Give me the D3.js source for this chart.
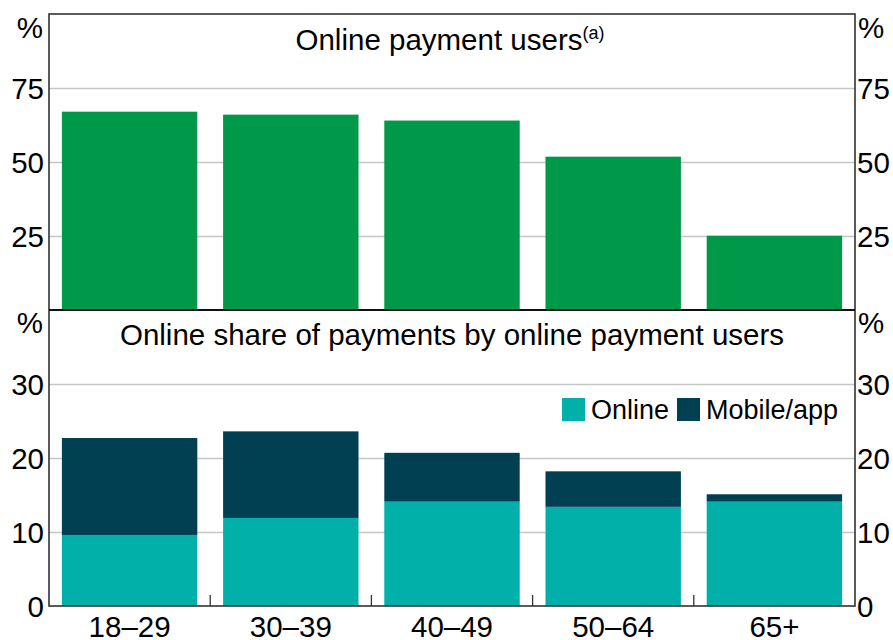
<!DOCTYPE html>
<html lang="en">
<head>
    <meta charset="UTF-8">
    <title>Online payment users</title>
    <script src="https://d3js.org/d3.v7.min.js"></script>
    <style>
        body { margin: 0; background: #fff; }
        svg text { font-family: "Liberation Sans", Arial, sans-serif; fill: #000; }
        .grid line { stroke: #c6c6c6; stroke-width: 1.3px; }
        .grid .domain { display: none; }
        .frame { fill: none; stroke: #333; stroke-width: 1.6px; }
    </style>
</head>
<body>
    <div id="chart"></div>

    <script>
        // Age groups
        const categories = ["18–29", "30–39", "40–49", "50–64", "65+"];
        // Top panel: share of people who are online payment users (%)
        const userShare = [67.0, 66.0, 64.0, 51.8, 25.1];
        // Bottom panel: share of payments made online (%), stacked
        const onlineShare = [9.6, 11.9, 14.1, 13.4, 14.1];
        const mobileShare = [13.1, 11.7, 6.6, 4.8, 1.0];

        const topTicks = [25, 50, 75];
        const bottomTicks = [0, 10, 20, 30];

        const width = 893, height = 640;
        const left = 49, right = 855;
        const topY = 14, midY = 310, botY = 606;
        const fontSize = 29.5;

        const svg = d3.select("#chart").append("svg")
            .attr("width", width)
            .attr("height", height);

        const x = d3.scaleBand()
            .domain(categories)
            .range([left, right])
            .paddingInner(0.16)
            .paddingOuter(0.08);

        const yTop = d3.scaleLinear().domain([0, 100]).range([midY, topY]);
        const yBot = d3.scaleLinear().domain([0, 40]).range([botY, midY]);

        // gridlines
        svg.append("g")
            .attr("class", "grid")
            .attr("transform", `translate(${left},0)`)
            .call(d3.axisLeft(yTop).tickValues(topTicks).tickSize(-(right - left)).tickFormat(""));
        svg.append("g")
            .attr("class", "grid")
            .attr("transform", `translate(${left},0)`)
            .call(d3.axisLeft(yBot).tickValues([10, 20, 30]).tickSize(-(right - left)).tickFormat(""));

        // top bars
        svg.append("g")
            .selectAll("rect")
            .data(categories)
            .join("rect")
            .attr("x", d => x(d))
            .attr("width", x.bandwidth())
            .attr("y", (d, i) => yTop(userShare[i]))
            .attr("height", (d, i) => midY - yTop(userShare[i]))
            .attr("fill", "#009849");

        // bottom stacked bars
        const rows = categories.map((c, i) => ({ cat: c, online: onlineShare[i], mobile: mobileShare[i] }));
        const series = d3.stack().keys(["online", "mobile"])(rows);
        const colour = d3.scaleOrdinal().domain(["online", "mobile"]).range(["#00b0a9", "#004052"]);

        svg.append("g")
            .selectAll("g")
            .data(series)
            .join("g")
            .attr("fill", s => colour(s.key))
            .selectAll("rect")
            .data(s => s)
            .join("rect")
            .attr("x", d => x(d.data.cat))
            .attr("width", x.bandwidth())
            .attr("y", d => yBot(d[1]))
            .attr("height", d => yBot(d[0]) - yBot(d[1]));

        // frame and panel divider
        svg.append("rect")
            .attr("class", "frame")
            .attr("x", left).attr("y", topY)
            .attr("width", right - left).attr("height", botY - topY);
        svg.append("line")
            .attr("x1", left).attr("x2", right)
            .attr("y1", midY).attr("y2", midY)
            .attr("stroke", "#111").attr("stroke-width", 1.8);

        // category boundary ticks on the bottom axis
        const step = x.step();
        svg.append("g")
            .selectAll("line")
            .data(categories.slice(1))
            .join("line")
            .attr("x1", d => x(d) - step * x.paddingInner() / 2)
            .attr("x2", d => x(d) - step * x.paddingInner() / 2)
            .attr("y1", botY - 11)
            .attr("y2", botY)
            .attr("stroke", "#333")
            .attr("stroke-width", 1.3);

        // y tick labels, both sides
        function yLabels(scale, ticks, unitY) {
            const g = svg.append("g").attr("font-size", fontSize);
            ticks.forEach(t => {
                g.append("text").attr("x", left - 5).attr("y", scale(t)).attr("dy", "0.36em")
                    .attr("text-anchor", "end").text(t);
                g.append("text").attr("x", right + 2).attr("y", scale(t)).attr("dy", "0.36em")
                    .attr("text-anchor", "start").text(t);
            });
            g.append("text").attr("x", left - 6).attr("y", unitY).attr("text-anchor", "end").text("%");
            g.append("text").attr("x", right + 3).attr("y", unitY).attr("text-anchor", "start").text("%");
        }
        yLabels(yTop, topTicks, 38);
        yLabels(yBot, bottomTicks, 333);

        // x labels
        svg.append("g")
            .attr("font-size", fontSize)
            .selectAll("text")
            .data(categories)
            .join("text")
            .attr("x", d => x(d) + x.bandwidth() / 2)
            .attr("y", 637)
            .attr("text-anchor", "middle")
            .text(d => d);

        // panel titles
        const t1 = svg.append("text")
            .attr("x", 450).attr("y", 50)
            .attr("font-size", fontSize)
            .attr("text-anchor", "middle");
        t1.append("tspan").text("Online payment users");
        t1.append("tspan").attr("font-size", 18).attr("dy", -11).text("(a)");

        svg.append("text")
            .attr("x", 452).attr("y", 345)
            .attr("font-size", fontSize)
            .attr("text-anchor", "middle")
            .text("Online share of payments by online payment users");

        // legend
        const legendItems = [
            { key: "online", label: "Online", x: 562 },
            { key: "mobile", label: "Mobile/app", x: 677 }
        ];
        const legend = svg.append("g").attr("font-size", 27);
        legendItems.forEach(it => {
            legend.append("rect")
                .attr("x", it.x).attr("y", 398)
                .attr("width", 23).attr("height", 23)
                .attr("fill", colour(it.key));
            legend.append("text")
                .attr("x", it.x + 29).attr("y", 419)
                .text(it.label);
        });
    </script>
</body>
</html>
